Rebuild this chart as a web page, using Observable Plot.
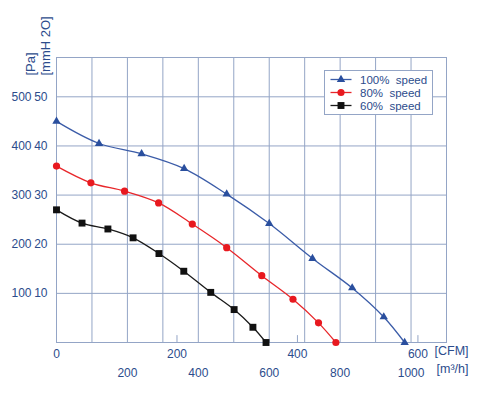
<!DOCTYPE html>
<html><head><meta charset="utf-8">
<script src="https://cdn.jsdelivr.net/npm/d3@7"></script>
<script src="https://cdn.jsdelivr.net/npm/@observablehq/plot@0.6"></script>
<style>
body{margin:0;background:#fff;font-family:"Liberation Sans",Arial,sans-serif}
#chart{position:relative;width:497px;height:394px}
</style>
</head><body><div id="chart"></div>
<script>
// ---- data (flow in m³/h, pressure in Pa) ----
const seriesNames = ["100%  speed", "80%  speed", "60%  speed"];
const flow100 = [0, 120, 240, 360, 480, 600, 722, 834, 923, 982];
const pa100   = [450, 405, 384, 354, 302, 242, 171, 111, 52, 0];
const flow80  = [0, 97, 192, 288, 383, 480, 579, 667, 739, 788];
const pa80    = [359, 325, 308, 284, 241, 193, 136, 88, 40, 0];
const flow60  = [0, 72, 145, 216, 289, 359, 435, 501, 554, 591];
const pa60    = [270, 243, 231, 213, 181, 145, 102, 67, 31, 0];

const paTicks   = [100, 200, 300, 400, 500];
const m3hTicks  = [200, 400, 600, 800, 1000];
const cfmTicks  = [0, 200, 400, 600];
const gridFlow  = d3.range(0, 1101, 100);
const CFM_TO_M3H = 1.699;

const colors  = ["#2a4f9e", "#e8191f", "#111111"];
const lineCol = ["#3b5ca8", "#e8262a", "#1a1a1a"];
const symbols = ["triangle", "circle", "square"];
const radii   = [3.1, 3.6, 3.9];
const textColor = "#2c4c8c";
const gridColor = "#94a5c6";

const flows = [flow100, flow80, flow60];
const pas = [pa100, pa80, pa60];
const tables = flows.map((f, s) => f.map((v, i) => ({flow: v, pa: pas[s][i]})));

const seriesMarks = tables.flatMap((t, s) => [
  Plot.line(t, {x: "flow", y: "pa", stroke: lineCol[s], strokeWidth: 1.3, curve: "catmull-rom"}),
  Plot.dot(t, {x: "flow", y: "pa", symbol: symbols[s], r: radii[s], fill: colors[s], stroke: "none"})
]);

const txt = {fill: textColor, fontSize: 12};

const plot = Plot.plot({
  width: 497, height: 394,
  marginLeft: 56, marginRight: 51, marginTop: 57, marginBottom: 52,
  x: {domain: [0, 1100], label: null},
  y: {domain: [0, 580], label: null},
  style: {fontFamily: "Liberation Sans, Arial, sans-serif", fontSize: "12px", background: "white", color: textColor},
  marks: [
    Plot.gridX(gridFlow, {stroke: gridColor, strokeOpacity: 1}),
    Plot.gridY(paTicks, {stroke: gridColor, strokeOpacity: 1}),
    Plot.frame({stroke: gridColor}),
    Plot.ruleX(cfmTicks.slice(1), {x: d => d * CFM_TO_M3H, y1: 0, y2: 14, stroke: gridColor}),
    Plot.axisY(paTicks, {tickSize: 0, tickPadding: 25, ...txt, label: null}),
    Plot.axisY(paTicks, {tickSize: 0, tickPadding: 9, tickFormat: d => String(d / 10), ...txt, label: null}),
    Plot.axisX(m3hTicks, {tickSize: 0, tickPadding: 26, tickFormat: d => String(d), ...txt, label: null}),
    Plot.axisX(cfmTicks.map(c => c * CFM_TO_M3H), {tickSize: 0, tickPadding: 7, tickFormat: d => String(Math.round(d / CFM_TO_M3H)), ...txt, label: null}),
    Plot.text(["[CFM]"], {frameAnchor: "bottom-right", textAnchor: "start", dx: -12, dy: 12, ...txt, fontSize: 12.5}),
    Plot.text(["[m³/h]"], {frameAnchor: "bottom-right", textAnchor: "start", dx: -10, dy: 30, ...txt, fontSize: 12.5}),
    Plot.text(["[Pa]"], {frameAnchor: "top-left", rotate: -90, textAnchor: "start", dx: -31, dy: 18, ...txt, fontSize: 13}),
    Plot.text(["[mmH 2O]"], {frameAnchor: "top-left", rotate: -90, textAnchor: "start", dx: -16, dy: 18, ...txt, fontSize: 13}),
    ...seriesMarks
  ]
});
document.getElementById("chart").append(plot);

// ---- legend (inside plot area, top right) ----
const svg = d3.select(plot);
const lg = svg.append("g").attr("transform", "translate(324.5,70.5)");
lg.append("rect").attr("width", 108).attr("height", 44).attr("fill", "white").attr("stroke", gridColor);
seriesNames.forEach((name, s) => {
  const y = 9 + s * 13;
  lg.append("line").attr("x1", 6).attr("x2", 27).attr("y1", y).attr("y2", y).attr("stroke", lineCol[s]).attr("stroke-width", 1.3);
  const sym = {triangle: d3.symbolTriangle, circle: d3.symbolCircle, square: d3.symbolSquare}[symbols[s]];
  lg.append("path").attr("d", d3.symbol(sym, Math.PI * radii[s] * radii[s])()).attr("transform", `translate(16.5,${y})`).attr("fill", colors[s]);
  lg.append("text").attr("x", 35.5).attr("y", y).attr("dy", "0.35em").attr("fill", textColor)
    .attr("text-anchor", "start").attr("font-size", 11.5).style("white-space", "pre").text(name);
});
</script>
</body></html>
